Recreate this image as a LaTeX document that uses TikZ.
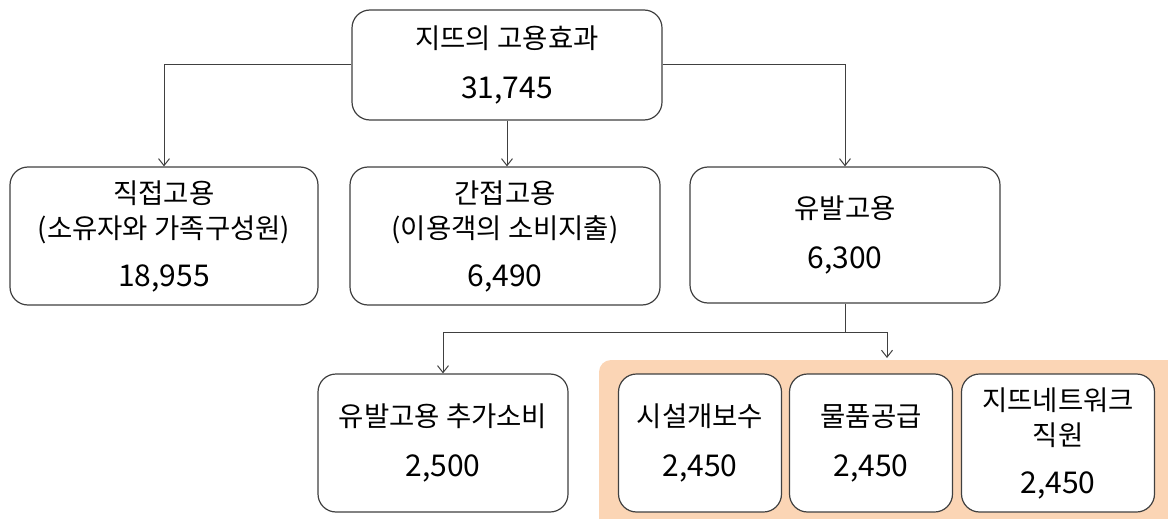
\documentclass[tikz,border=0pt]{standalone}
\usepackage{fontspec}
\setmainfont{Noto Sans CJK KR}
\usetikzlibrary{arrows.meta}
\definecolor{edge}{HTML}{404040}
\definecolor{peach}{HTML}{FBD5B5}
\newcommand{\num}[1]{{\fontsize{30}{35}\selectfont #1}}
\begin{document}
\begin{tikzpicture}[x=1pt,y=-1pt,
  box/.style={draw=edge,line width=1.2pt,rounded corners=18pt,fill=white,align=center,
    font=\fontsize{27.5}{35}\selectfont,text=black,inner sep=0pt},
  conn/.style={draw=edge,line width=1pt},
  arr/.style={conn,-{Straight Barb[length=7pt,width=11pt]}}]
\useasboundingbox (0,0) rectangle (1168,519);
\fill[peach,rounded corners=12pt] (599,360) rectangle (1185,540);
\node[box,minimum width=310pt,minimum height=110pt] (top) at (507,65) {지뜨의 고용효과\\[15pt]\num{31,745}};
\node[box,minimum width=308pt,minimum height=138pt] (d) at (164,236) {직접고용\\(소유자와 가족구성원)\\[13pt]\num{18,955}};
\node[box,minimum width=310pt,minimum height=138pt] (i) at (505,236) {간접고용\\(이용객의 소비지출)\\[13pt]\num{6,490}};
\node[box,minimum width=310pt,minimum height=136pt] (y) at (845,235) {유발고용\\[15pt]\num{6,300}};
\node[box,minimum width=250pt,minimum height=138pt] (a) at (443,443) {유발고용 추가소비\\[15pt]\num{2,500}};
\node[box,minimum width=163pt,minimum height=138pt] (s1) at (700,443) {시설개보수\\[15pt]\num{2,450}};
\node[box,minimum width=163pt,minimum height=138pt] (s2) at (871,443) {물품공급\\[15pt]\num{2,450}};
\node[box,minimum width=193pt,minimum height=138pt] (s3) at (1058,443) {지뜨네트워크\\직원\\[13pt]\num{2,450}};
\coordinate (j) at (845,332);
\coordinate (g) at (887,358);
\draw[arr] (top.west) -| (d.north);
\draw[arr] (top.east) -| (y.north);
\draw[arr] (top.south) -- (top.south |- i.north);
\draw[conn] (y.south) -- (j);
\draw[arr] (j) -| (a.north);
\draw[arr] (j) -| (g);
\end{tikzpicture}
\end{document}
